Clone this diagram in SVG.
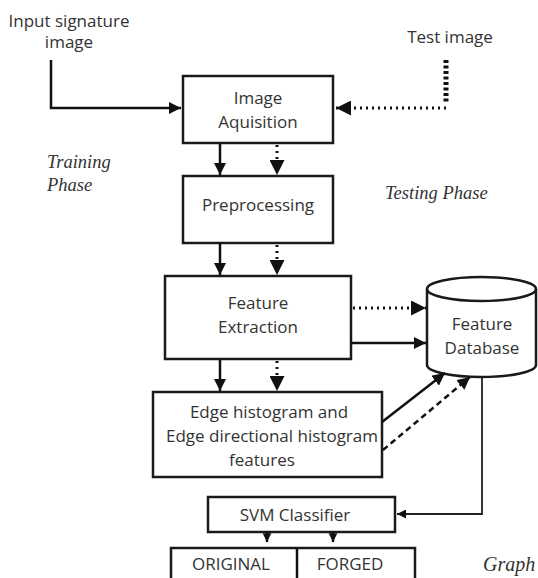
<svg xmlns="http://www.w3.org/2000/svg" width="538" height="578" viewBox="0 0 538 578">
  <defs>
    <marker id="arrow" viewBox="0 0 10 10" refX="10" refY="5" markerWidth="5" markerHeight="5" markerUnits="strokeWidth" orient="auto">
      <path d="M0,0 L10,5 L0,10 Z" fill="#111"/>
    </marker>
    <marker id="arrowSmall" viewBox="0 0 10 10" refX="10" refY="5" markerWidth="3.5" markerHeight="4" markerUnits="strokeWidth" orient="auto">
      <path d="M0,0 L10,5 L0,10 Z" fill="#111"/>
    </marker>
    <style>
      .box { fill: #fff; stroke: #1a1a1a; stroke-width: 2.5; }
      .lbl { font-family: "Open Sans", "Liberation Sans", sans-serif; font-size: 17px; fill: #333; text-anchor: middle; }
      .phase { font-family: "Liberation Serif", serif; font-style: italic; font-size: 18.5px; fill: #333; }
      .solid { fill: none; stroke: #111; stroke-width: 2.5; }
      .dotted { fill: none; stroke: #111; stroke-width: 3; stroke-dasharray: 2 4; }
      .dashed { fill: none; stroke: #111; stroke-width: 2.5; stroke-dasharray: 6 4; }
      .thin { fill: none; stroke: #222; stroke-width: 1.8; }
    </style>
  </defs>

  <!-- free-standing labels -->
  <g id="labels">
    <text class="lbl" x="69" y="27">Input signature</text>
    <text class="lbl" x="69" y="48">image</text>
    <text class="lbl" x="450" y="43">Test image</text>
    <text class="phase" x="47" y="168">Training</text>
    <text class="phase" x="47" y="191">Phase</text>
    <text class="phase" x="385" y="199">Testing Phase</text>
    <text class="phase" x="483" y="571" style="font-size:20px">Graph</text>
  </g>

  <g id="acquisition">
    <rect class="box" x="183" y="76" width="150" height="67"/>
    <text class="lbl" x="258" y="104">Image</text>
    <text class="lbl" x="258" y="128">Aquisition</text>
  </g>

  <g id="preprocessing">
    <rect class="box" x="183" y="176" width="150" height="67"/>
    <text class="lbl" x="258" y="211">Preprocessing</text>
  </g>

  <g id="extraction">
    <rect class="box" x="165" y="276" width="186" height="83"/>
    <text class="lbl" x="258" y="309">Feature</text>
    <text class="lbl" x="258" y="333">Extraction</text>
  </g>

  <g id="database">
    <path class="box" d="M427,289 L427,365 A54.5,12 0 0 0 536,365 L536,289"/>
    <ellipse class="box" cx="481.5" cy="289" rx="54.5" ry="12"/>
    <text class="lbl" x="482" y="330">Feature</text>
    <text class="lbl" x="482" y="354">Database</text>
  </g>

  <g id="edge-features">
    <rect class="box" x="153" y="392" width="229" height="85"/>
    <text class="lbl" x="269" y="418">Edge histogram and</text>
    <text class="lbl" x="272" y="442">Edge directional histogram</text>
    <text class="lbl" x="262" y="466">features</text>
  </g>

  <g id="svm">
    <rect class="box" x="208" y="497" width="187" height="35"/>
    <text class="lbl" x="295" y="521">SVM Classifier</text>
  </g>

  <g id="result">
    <rect class="box" x="171" y="548" width="244" height="40"/>
    <line class="solid" x1="297" y1="548" x2="297" y2="578"/>
    <text class="lbl" x="231" y="570">ORIGINAL</text>
    <text class="lbl" x="350" y="570">FORGED</text>
  </g>

  <g id="connectors">
    <!-- input signature into acquisition -->
    <path class="solid" d="M51,60 L51,108 L181,108" marker-end="url(#arrow)"/>
    <!-- test image into acquisition -->
    <path d="M446,60 L446,104" fill="none" stroke="#111" stroke-width="5" stroke-dasharray="3 2.5"/>
    <path class="dotted" d="M446,108 L336,108" marker-end="url(#arrow)"/>

    <!-- training (solid) and testing (dotted) paths down the pipeline -->
    <line class="solid" x1="220" y1="143" x2="220" y2="175" marker-end="url(#arrow)"/>
    <line class="dotted" x1="277" y1="145" x2="277" y2="175" marker-end="url(#arrow)"/>
    <line class="solid" x1="220" y1="243" x2="220" y2="275" marker-end="url(#arrow)"/>
    <line class="dotted" x1="277" y1="245" x2="277" y2="275" marker-end="url(#arrow)"/>
    <line class="solid" x1="220" y1="359" x2="220" y2="391" marker-end="url(#arrow)"/>
    <line class="dotted" x1="277" y1="361" x2="277" y2="391" marker-end="url(#arrow)"/>

    <!-- extraction into database -->
    <line class="dotted" x1="353" y1="308" x2="426" y2="308" marker-end="url(#arrow)"/>
    <line class="solid" x1="351" y1="343" x2="426" y2="343" marker-end="url(#arrow)"/>

    <!-- edge features into database -->
    <line class="solid" x1="382" y1="422" x2="445" y2="373" marker-end="url(#arrow)"/>
    <line class="dashed" x1="383" y1="450" x2="470" y2="377" marker-end="url(#arrow)"/>

    <!-- database to classifier -->
    <path class="thin" d="M482,377 L482,514 L397,514" marker-end="url(#arrow)"/>

    <!-- classifier outputs -->
    <line class="solid" x1="267" y1="532" x2="267" y2="542" marker-end="url(#arrowSmall)"/>
    <line class="solid" x1="333" y1="532" x2="333" y2="542" marker-end="url(#arrowSmall)"/>
  </g>
</svg>
